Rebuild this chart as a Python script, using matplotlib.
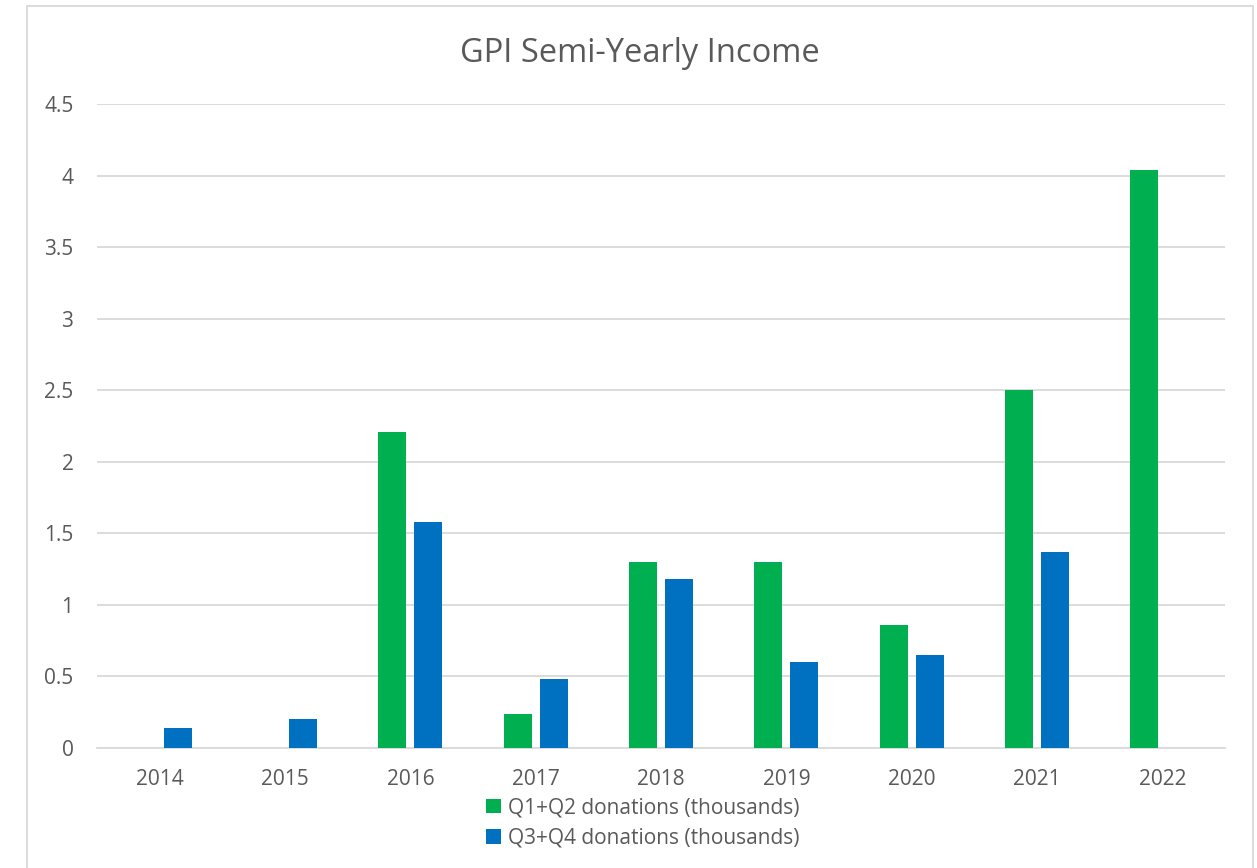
import matplotlib.pyplot as plt
import numpy as np
from matplotlib.patches import Patch, Rectangle

# data
years = ['2014', '2015', '2016', '2017', '2018', '2019', '2020', '2021', '2022']
q1q2 = [0, 0, 2.21, 0.24, 1.30, 1.30, 0.86, 2.50, 4.04]
q3q4 = [0.14, 0.20, 1.58, 0.48, 1.18, 0.60, 0.65, 1.37, 0]
yticks = [0, 0.5, 1, 1.5, 2, 2.5, 3, 3.5, 4, 4.5]
ytick_labels = ['0', '0.5', '1', '1.5', '2', '2.5', '3', '3.5', '4', '4.5']

GREEN = '#00B050'
BLUE = '#0070C0'
GRID = '#d9d9d9'
TEXT = '#595959'

plt.rcParams['font.family'] = ['Open Sans', 'DejaVu Sans']

W, H = 1257, 868
fig = plt.figure(figsize=(W / 100, H / 100), dpi=100)
ax = fig.add_axes([97 / W, 1 - 748 / H, (1225 - 97) / W, (748 - 104) / H])

# chart area border
fig.patches.append(Rectangle((27 / W, -0.05), (1253 - 27) / W, 1.05 - 6 / H,
                             transform=fig.transFigure, fill=False,
                             edgecolor=GRID, linewidth=1.3))

x = np.arange(len(years))
bw = 0.223
off = 0.144
ax.bar(x - off, q1q2, bw, color=GREEN, zorder=3)
ax.bar(x + off, q3q4, bw, color=BLUE, zorder=3)

ax.set_xlim(-0.5, len(years) - 0.5)
ax.set_ylim(0, 4.5)
ax.set_yticks(yticks)
ax.set_yticklabels(ytick_labels)
ax.set_xticks(x)
ax.set_xticklabels(years)
ax.tick_params(length=0, labelsize=15, colors=TEXT)
ax.tick_params(axis='x', pad=15)
ax.tick_params(axis='y', pad=17)

ax.grid(axis='y', color=GRID, linewidth=1.3, zorder=0)
for s in ['top', 'right', 'left']:
    ax.spines[s].set_visible(False)
ax.spines['bottom'].set_color(GRID)
ax.spines['bottom'].set_linewidth(1.3)

fig.text(640 / W, 1 - 53 / H, 'GPI Semi-Yearly Income', ha='center', va='center',
         fontsize=23.5, color=TEXT)

handles = [Patch(facecolor=GREEN, label='Q1+Q2 donations (thousands)'),
           Patch(facecolor=BLUE, label='Q3+Q4 donations (thousands)')]
leg = fig.legend(handles=handles, loc='center', bbox_to_anchor=(643 / W, 1 - 823 / H),
                 ncol=1, frameon=False, fontsize=15, handlelength=0.7,
                 handleheight=0.7, handletextpad=0.35, labelspacing=0.45,
                 borderpad=0)
for t in leg.get_texts():
    t.set_color(TEXT)

fig.savefig('out.png', dpi=100)
